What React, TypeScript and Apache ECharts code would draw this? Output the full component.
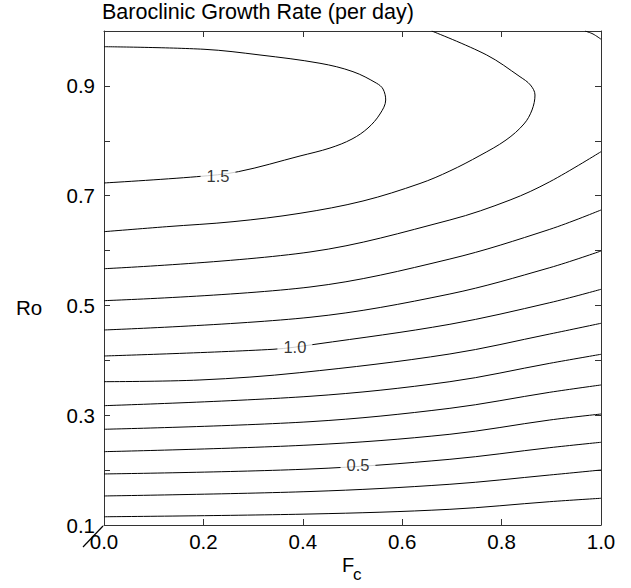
import React, { useEffect, useRef } from "react";
import * as echarts from "echarts";

// Contour lines of baroclinic growth rate, points [Fc, Ro]
const contour03 = [[0, 0.115], [0.4145, 0.12], [0.696, 0.1286], [0.897, 0.1425], [1.0, 0.1487]];
const contour04 = [[0, 0.1529], [0.4145, 0.161], [0.696, 0.1742], [0.897, 0.1911], [1.0, 0.2002]];
const contour05 = [[0, 0.193], [0.4145, 0.202], [0.696, 0.2197], [0.897, 0.2409], [1.0, 0.2507]];
const contour06 = [[0, 0.2336], [0.4145, 0.2458], [0.696, 0.2653], [0.897, 0.2913], [1.0, 0.3022]];
const contour07 = [[0, 0.2744], [0.4145, 0.2882], [0.696, 0.3126], [0.897, 0.3418], [1.0, 0.3551]];
const contour08 = [[0, 0.3174], [0.4145, 0.3345], [0.696, 0.3611], [0.897, 0.3946], [1.0, 0.411]];
const contour09 = [[0, 0.3611], [0.193, 0.3642], [0.394, 0.3775], [0.696, 0.4116], [0.897, 0.448], [1.0, 0.4675]];
const contour10 = [[0, 0.4079], [0.34, 0.4201], [0.4245, 0.4292], [0.696, 0.4657], [0.897, 0.505], [1.0, 0.5294]];
const contour11 = [[0, 0.4553], [0.4145, 0.4784], [0.696, 0.5209], [0.897, 0.5688], [1.0, 0.5992]];
const contour12 = [[0, 0.5087], [0.4145, 0.5336], [0.696, 0.5846], [0.897, 0.6387], [1.0, 0.6739]];
const contour13 = [[0, 0.5669], [0.4145, 0.5974], [0.696, 0.6557], [0.817, 0.6921], [0.897, 0.7254], [1.0, 0.7801]];
const contour13Corner = [[0.9678, 1.0], [0.984, 0.9945], [1.0, 0.985]];
const contour14 = [
  [0.6594, 1.0], [0.77, 0.9563], [0.837, 0.9167], [0.858, 0.9016],
  [0.8672, 0.8834], [0.8612, 0.8561], [0.845, 0.8306], [0.8089, 0.8014], [0.7565, 0.7732],
  [0.696, 0.745], [0.6358, 0.7222], [0.5211, 0.6903], [0.3944, 0.6679],
  [0.2596, 0.6526], [0.1262, 0.6435], [0, 0.6344],
];
const contour15 = [
  [0, 0.9714], [0.2012, 0.9667], [0.3139, 0.9563], [0.4346, 0.9412], [0.501, 0.9259],
  [0.5487, 0.9047], [0.5614, 0.8943], [0.5668, 0.8743], [0.5553, 0.8488], [0.5312, 0.8233],
  [0.499, 0.8032], [0.4547, 0.7868], [0.3944, 0.7723], [0.2702, 0.7437], [0.1865, 0.7346],
  [0, 0.7231],
];

const contours = [
  contour03, contour04, contour05, contour06, contour07, contour08, contour09,
  contour10, contour11, contour12, contour13, contour13Corner, contour14, contour15,
];

// Contour labels: text and position [Fc, Ro]
const labelTexts = ["1.5", "1.0", "0.5"];
const labelPositions = [[0.2294, 0.7365], [0.384, 0.4245], [0.511, 0.2085]];

const xTicks = [0, 0.2, 0.4, 0.6, 0.8, 1.0];
const yLabelled = [0.1, 0.3, 0.5, 0.7, 0.9];

const FONT = "'Liberation Sans', Arial, Helvetica, sans-serif";

export default function App() {
  const ref = useRef<HTMLDivElement>(null);

  useEffect(() => {
    if (!ref.current) return;
    const chart = echarts.init(ref.current, null, { renderer: "svg" });

    const axisLine = { show: true, onZero: false, lineStyle: { color: "#333", width: 1 } };
    const axisTick = { show: true, inside: true, length: 6, lineStyle: { color: "#333", width: 1 } };

    const lineSeries = contours.map((pts) => ({
      type: "line",
      data: pts,
      smooth: 0.35,
      showSymbol: false,
      symbol: "none",
      lineStyle: { color: "#000", width: 1 },
      silent: true,
      z: 2,
    }));

    const labelSeries = {
      type: "scatter",
      symbolSize: 1,
      itemStyle: { color: "rgba(0,0,0,0)" },
      data: labelPositions.map((p, i) => ({ value: p, name: labelTexts[i] })),
      label: {
        show: true,
        position: "inside",
        formatter: (p: any) => p.name,
        fontFamily: FONT,
        fontSize: 16.5,
        color: "#000",
        backgroundColor: "#fff",
        padding: [1, 6],
      },
      silent: true,
      z: 10,
    };

    chart.setOption({
      animation: false,
      backgroundColor: "#fff",
      grid: { left: 104, right: 30, top: 31, bottom: 63, containLabel: false },
      title: {
        text: "Baroclinic Growth Rate (per day)",
        left: 97,
        top: -4,
        textStyle: { fontFamily: FONT, fontSize: 21.5, fontWeight: "normal", color: "#000" },
      },
      xAxis: [
        {
          type: "value",
          min: 0,
          max: 1,
          interval: 0.2,
          position: "bottom",
          axisLine,
          axisTick,
          splitLine: { show: false },
          axisLabel: {
            fontFamily: FONT,
            fontSize: 20.5,
            color: "#000",
            margin: 6,
            formatter: (v: number) => (xTicks.some((t) => Math.abs(t - v) < 1e-6) ? v.toFixed(1) : ""),
          },
        },
        {
          type: "value",
          min: 0,
          max: 1,
          interval: 0.2,
          position: "top",
          axisLine,
          axisTick,
          splitLine: { show: false },
          axisLabel: { show: false },
        },
      ],
      yAxis: [
        {
          type: "value",
          min: 0.1,
          max: 1.0,
          interval: 0.1,
          position: "left",
          axisLine,
          axisTick,
          splitLine: { show: false },
          axisLabel: {
            fontFamily: FONT,
            fontSize: 20.5,
            color: "#000",
            margin: 9,
            formatter: (v: number) =>
              yLabelled.some((t) => Math.abs(t - v) < 1e-6) ? v.toFixed(1) : "",
          },
        },
        {
          type: "value",
          min: 0.1,
          max: 1.0,
          interval: 0.1,
          position: "right",
          axisLine,
          axisTick,
          splitLine: { show: false },
          axisLabel: { show: false },
        },
      ],
      series: [...lineSeries, labelSeries],
      graphic: [
        {
          type: "text",
          left: 16,
          top: 297,
          style: { text: "Ro", fontFamily: FONT, fontSize: 20.5, fill: "#000" },
        },
        {
          type: "text",
          left: 342,
          top: 555,
          style: { text: "F", fontFamily: FONT, fontSize: 20, fill: "#000" },
        },
        {
          type: "text",
          left: 353,
          top: 566,
          style: { text: "c", fontFamily: FONT, fontSize: 17, fill: "#000" },
        },
        {
          type: "line",
          shape: { x1: 83, y1: 547, x2: 103, y2: 526 },
          style: { stroke: "#000", lineWidth: 1.2 },
        },
      ],
    });

    return () => chart.dispose();
  }, []);

  return (
    <div
      ref={ref}
      style={{ position: "fixed", left: 0, top: 0, width: 631, height: 588, background: "#fff" }}
    />
  );
}
